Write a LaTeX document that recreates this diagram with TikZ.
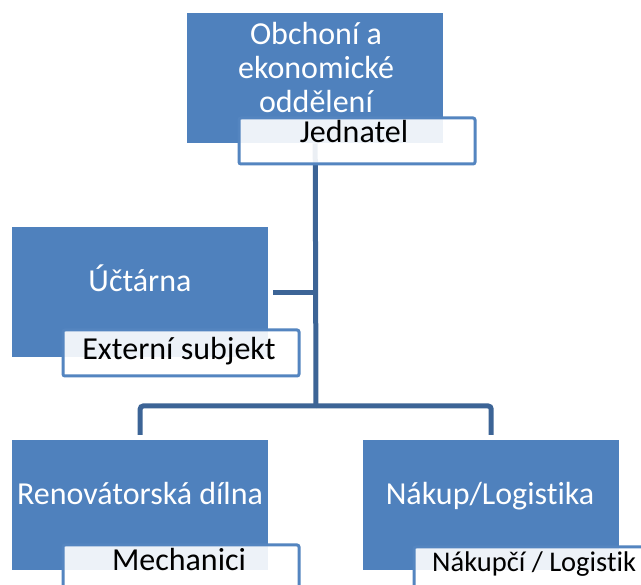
\documentclass[tikz,border=0pt]{standalone}
\usepackage{fontspec}
\setmainfont{Carlito}[Ligatures=NoCommon]
\definecolor{boxblue}{RGB}{79,129,189}
\definecolor{labblue}{RGB}{84,133,192}
\definecolor{connblue}{RGB}{60,100,150}
\begin{document}
\begin{tikzpicture}[x=1pt,y=-1pt,
  box/.style={fill=boxblue, draw=none, anchor=north west, minimum width=256pt, minimum height=130pt, inner sep=0pt},
  lab/.style={fill=white, fill opacity=0.9, draw=labblue, draw opacity=1, line width=3pt, rounded corners=2pt, anchor=north west, minimum width=236pt, minimum height=46pt, inner sep=0pt},
  wtxt/.style={text=white, font=\fontsize{32}{34}\selectfont, inner sep=0pt, anchor=base},
  btxt/.style={text=black, font=\fontsize{32}{34}\selectfont, inner sep=0pt, anchor=base},
  conn/.style={draw=connblue, line width=5pt, rounded corners=3pt}]
\useasboundingbox (0,0) rectangle (641,585);
\fill[white] (0,0) rectangle (641,585);
% boxes
\node[box] (top) at (187,13) {};
\node[box] (uct) at (12,227) {};
\node[box] (ren) at (12,440) {};
\node[box] (nak) at (363,440) {};
% connectors
\coordinate (hub) at (316,406);
\draw[conn] (top.south) -- (hub);
\draw[conn] ([xshift=5pt]uct.east) -- (uct.east -| hub);
\draw[conn] (hub) -| ([yshift=5pt]ren.north);
\draw[conn] (hub) -| ([yshift=5pt]nak.north);
% labels
\node[lab] (topl) at (237.5,116.5) {};
\node[lab] (uctl) at (61.5,328.5) {};
\node[lab] (renl) at (61.5,543.5) {};
\node[lab] (nakl) at (412.5,545.5) {};
% texts
\node[wtxt] (topt) at (316,45) {\begin{tabular}[t]{@{}c@{}}Obchoní a\\ekonomické\\oddělení\end{tabular}};
\node[wtxt] (uctt) at (140,292) {Účtárna};
\node[wtxt] (rent) at (140,505) {Renovátorská dílna};
\node[wtxt] (nakt) at (490,505) {Nákup/Logistika};
\node[btxt] (topj) at (354,143) {Jednatel};
\node[btxt] (uctj) at (179,360) {Externí subjekt};
\node[btxt] (renj) at (179,571) {Mechanici};
\node[btxt, anchor=base west, font=\fontsize{28.5}{34}\selectfont] (nakj) at (432,572) {Nákupčí / Logistik};
\end{tikzpicture}
\end{document}
